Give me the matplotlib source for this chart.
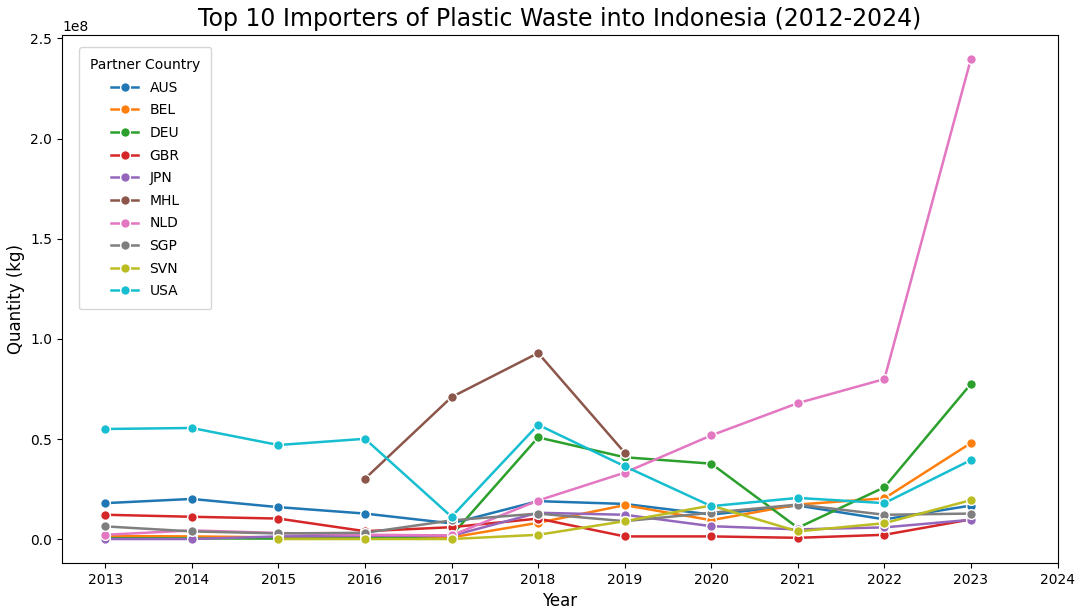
import matplotlib
matplotlib.use("Agg")
import matplotlib.pyplot as plt
import numpy as np

years = list(range(2013, 2024))

AUS = [0.181, 0.202, 0.161, 0.129, 0.080, 0.191, 0.177, 0.124, 0.169, 0.100, 0.169]
BEL = [0.017, 0.015, 0.010, 0.010, 0.010, 0.083, 0.171, 0.096, 0.174, 0.205, 0.481]
DEU = [0.006, 0.005, 0.004, 0.005, 0.020, 0.509, 0.410, 0.378, 0.058, 0.260, 0.776]
GBR = [0.123, 0.113, 0.104, 0.041, 0.061, 0.104, 0.015, 0.015, 0.008, 0.023, 0.100]
JPN = [0.002, 0.002, 0.015, 0.018, 0.018, 0.133, 0.123, 0.066, 0.050, 0.060, 0.098]
MHL_years = [2016, 2017, 2018, 2019]
MHL = [0.303, 0.710, 0.930, 0.433]
NLD = [0.023, 0.045, 0.032, 0.023, 0.020, 0.194, 0.333, 0.519, 0.680, 0.800, 2.398]
SGP = [0.065, 0.040, 0.030, 0.033, 0.095, 0.129, 0.091, 0.133, 0.174, 0.123, 0.129]
SVN_years = list(range(2015, 2024))
SVN = [0.002, 0.002, 0.002, 0.023, 0.091, 0.169, 0.040, 0.081, 0.196]
USA = [0.551, 0.556, 0.471, 0.502, 0.113, 0.572, 0.365, 0.166, 0.207, 0.181, 0.396]

series = [
    ("AUS", years, AUS),
    ("BEL", years, BEL),
    ("DEU", years, DEU),
    ("GBR", years, GBR),
    ("JPN", years, JPN),
    ("MHL", MHL_years, MHL),
    ("NLD", years, NLD),
    ("SGP", years, SGP),
    ("SVN", SVN_years, SVN),
    ("USA", years, USA),
]
colors = plt.rcParams['axes.prop_cycle'].by_key()['color']

fig = plt.figure(figsize=(10.78, 6.1), dpi=100)
ax = fig.add_axes([0.0575, 0.077, 0.9235, 0.866])
for (name, xs, ys), c in zip(series, colors):
    ax.plot(xs, np.array(ys) * 1e8, color=c, lw=1.8, marker='o', ms=7,
            markeredgecolor='white', markeredgewidth=1, label=name)

ax.set_xticks(range(2013, 2025))
ax.set_title("Top 10 Importers of Plastic Waste into Indonesia (2012-2024)", fontsize=17)
ax.set_xlabel("Year", fontsize=12)
ax.set_ylabel("Quantity (kg)", fontsize=12)
ax.legend(title="Partner Country", loc="upper left", borderpad=0.8,
          labelspacing=0.62, bbox_to_anchor=(0.01, 0.99))
fig.savefig("out.png", dpi=100)
